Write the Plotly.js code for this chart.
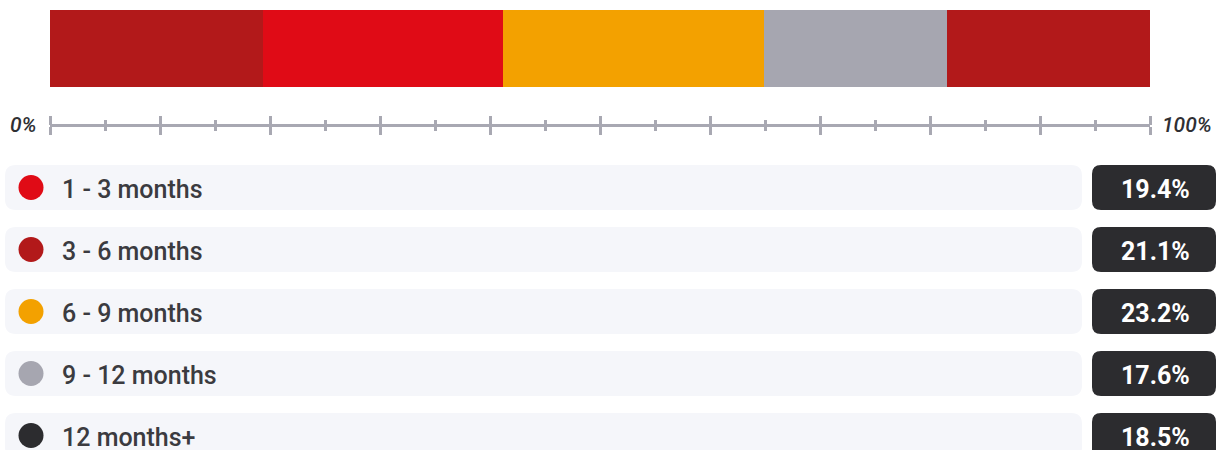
<!DOCTYPE html>
<html>
<head>
<meta charset="utf-8">
<script src="https://cdn.plot.ly/plotly-3.0.1.min.js"></script>
<style>
  html, body { margin: 0; padding: 0; background: #ffffff; }
  #chart { width: 1225px; height: 450px; }
</style>
</head>
<body>
<div id="chart"></div>
<script>
// ---- data ----
const categories = ['1 - 3 months', '3 - 6 months', '6 - 9 months', '9 - 12 months', '12 months+'];
const shareLabels = [19.4, 21.1, 23.2, 17.6, 18.5];          // values in the badges
const barShares = [19.4, 21.8, 23.7, 16.6, 18.5];            // segment widths as drawn in the bar
const barColors = ['#b2191a', '#e00b16', '#f3a100', '#a6a6b0', '#b2191a'];
const legendColors = ['#e00b16', '#b2191a', '#f3a100', '#a6a6b0', '#2c2c2f'];
const axisTickLabels = ['0%', '100%'];

// ---- page geometry (pixels) ----
const W = 1225, H = 450;
const barX0 = 50, barX1 = 1150, barTop = 10, barBottom = 87;
const axisY = 125;
const rowTop0 = 165, rowH = 45, rowStep = 62;
const rowX0 = 5, rowX1 = 1082, badgeX0 = 1092, badgeX1 = 1216;

const px = x => x / W;
const py = y => 1 - y / H;

function roundRect(x0, y0, x1, y1, r) {
  return `M ${x0 + r},${y0} H ${x1 - r} Q ${x1},${y0} ${x1},${y0 + r} V ${y1 - r} Q ${x1},${y1} ${x1 - r},${y1} H ${x0 + r} Q ${x0},${y1} ${x0},${y1 - r} V ${y0 + r} Q ${x0},${y0} ${x0 + r},${y0} Z`;
}

const traces = [];

// stacked bar
barShares.forEach((v, i) => {
  traces.push({
    type: 'bar', orientation: 'h',
    x: [v], y: [0],
    xaxis: 'x', yaxis: 'y',
    marker: { color: barColors[i], line: { width: 0 } },
    hoverinfo: 'skip', showlegend: false
  });
});

// dummy traces to materialise the tick axes
traces.push({ type: 'scatter', x: [null], y: [null], xaxis: 'x2', yaxis: 'y4', showlegend: false, hoverinfo: 'skip' });
traces.push({ type: 'scatter', x: [null], y: [null], xaxis: 'x3', yaxis: 'y4', showlegend: false, hoverinfo: 'skip' });

// legend dots
const rowCenters = categories.map((c, i) => rowTop0 + rowH / 2 + i * rowStep);
traces.push({
  type: 'scatter', mode: 'markers',
  x: categories.map(() => 31), y: rowCenters,
  xaxis: 'x4', yaxis: 'y4',
  marker: { size: 25, color: legendColors, line: { width: 0 } },
  hoverinfo: 'skip', showlegend: false
});

const shapes = [];
const annotations = [];
categories.forEach((c, i) => {
  const t = rowTop0 + i * rowStep;
  shapes.push({ type: 'path', xref: 'x4', yref: 'y4', path: roundRect(rowX0, t, rowX1, t + rowH, 11),
    fillcolor: '#f5f6fa', line: { width: 0 }, layer: 'below' });
  shapes.push({ type: 'path', xref: 'x4', yref: 'y4', path: roundRect(badgeX0, t, badgeX1, t + rowH, 9),
    fillcolor: '#2c2c2f', line: { width: 0 }, layer: 'below' });
  annotations.push({ xref: 'x4', yref: 'y4', x: 60, y: rowCenters[i] + 1.5, xanchor: 'left', yanchor: 'middle',
    text: c, showarrow: false, font: { family: 'Roboto', size: 25, weight: 500, color: '#3b3b40' } });
  annotations.push({ xref: 'x4', yref: 'y4', x: (badgeX0 + badgeX1) / 2 + 1, y: rowCenters[i] + 2, xanchor: 'center', yanchor: 'middle',
    text: shareLabels[i].toFixed(1) + '%', showarrow: false, font: { family: 'Roboto', size: 25, weight: 700, color: '#ffffff' } });
});

annotations.push({ xref: 'x4', yref: 'y4', x: 39, y: axisY, xanchor: 'right', yanchor: 'middle',
  text: '<i>' + axisTickLabels[0] + '</i>', showarrow: false, font: { family: 'Roboto', size: 21, weight: 500, color: '#2f2f33' } });
annotations.push({ xref: 'x4', yref: 'y4', x: 1160, y: axisY, xanchor: 'left', yanchor: 'middle',
  text: '<i>' + axisTickLabels[1] + '</i>', showarrow: false, font: { family: 'Roboto', size: 21, weight: 500, color: '#2f2f33' } });

const axisColor = '#a8a8b2';
const layout = {
  width: W, height: H,
  margin: { l: 0, r: 0, t: 0, b: 0, pad: 0 },
  paper_bgcolor: '#ffffff', plot_bgcolor: 'rgba(0,0,0,0)',
  barmode: 'stack', bargap: 0,
  showlegend: false,
  xaxis: { domain: [px(barX0), px(barX1)], range: [0, 100], visible: false, fixedrange: true },
  yaxis: { domain: [py(barBottom), py(barTop)], range: [-0.5, 0.5], visible: false, fixedrange: true },
  xaxis2: { domain: [px(barX0), px(barX1)], range: [0, 100], anchor: 'free', position: py(axisY), side: 'bottom',
    showline: true, linecolor: axisColor, linewidth: 3, showgrid: false, zeroline: false,
    ticks: 'outside', ticklen: 8, tickwidth: 3, tickcolor: axisColor, dtick: 10, tick0: 0, showticklabels: false,
    minor: { dtick: 5, ticks: 'outside', ticklen: 4, tickwidth: 3, tickcolor: axisColor, showgrid: false } },
  xaxis3: { domain: [px(barX0), px(barX1)], range: [0, 100], anchor: 'free', position: py(axisY), side: 'top',
    showline: false, showgrid: false, zeroline: false,
    ticks: 'outside', ticklen: 9, tickwidth: 3, tickcolor: axisColor, dtick: 10, tick0: 0, showticklabels: false,
    minor: { dtick: 5, ticks: 'outside', ticklen: 5, tickwidth: 3, tickcolor: axisColor, showgrid: false } },
  xaxis4: { domain: [0, 1], range: [0, W], visible: false, fixedrange: true },
  yaxis4: { domain: [0, 1], range: [H, 0], visible: false, fixedrange: true, anchor: 'x4' },
  shapes: shapes,
  annotations: annotations
};

Plotly.newPlot('chart', traces, layout, { displayModeBar: false, staticPlot: true });
</script>
</body>
</html>
